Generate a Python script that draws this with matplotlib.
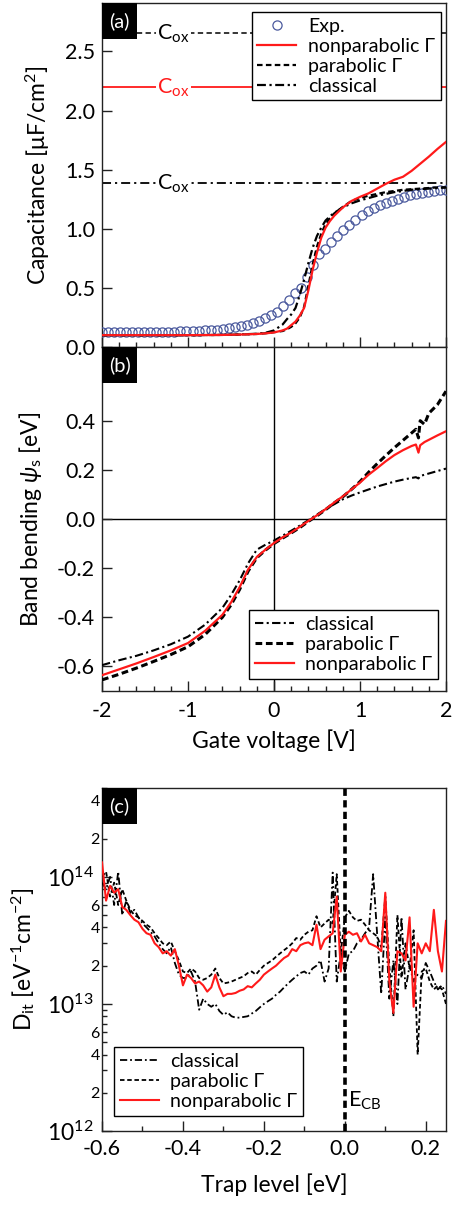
import numpy as np
import matplotlib
matplotlib.use('Agg')
import matplotlib.pyplot as plt
from matplotlib.patches import Rectangle
from matplotlib.ticker import FixedLocator, MultipleLocator, NullFormatter, FuncFormatter
from matplotlib.font_manager import FontProperties

plt.rcParams['font.family'] = ['Lato', 'DejaVu Sans']
plt.rcParams['mathtext.fontset'] = 'custom'
plt.rcParams['mathtext.rm'] = 'Lato'
plt.rcParams['mathtext.it'] = 'Lato:italic'
plt.rcParams['mathtext.bf'] = 'Lato:bold'
plt.rcParams['axes.unicode_minus'] = False

# ---------------- data: panel (a) capacitance ----------------
exp_v = np.linspace(-2.0, 2.0, 58)
exp_c = [0.124, 0.123, 0.123, 0.123, 0.124, 0.124, 0.125, 0.125, 0.126, 0.127,
         0.128, 0.129, 0.130, 0.132, 0.134, 0.137, 0.139, 0.141, 0.144, 0.147,
         0.151, 0.157, 0.165, 0.176, 0.190, 0.205, 0.222, 0.243, 0.268, 0.300,
         0.345, 0.400, 0.455, 0.500, 0.595, 0.695, 0.785, 0.830, 0.885, 0.940,
         0.990, 1.035, 1.075, 1.120, 1.150, 1.180, 1.200, 1.218, 1.235, 1.250,
         1.265, 1.285, 1.295, 1.305, 1.312, 1.318, 1.325, 1.330]

sim_v = [-2.0, -1.5, -1.0, -0.6, -0.4, -0.2, -0.1, 0.0, 0.1, 0.15, 0.2, 0.25,
         0.3, 0.35, 0.4, 0.45, 0.5, 0.55, 0.6, 0.65, 0.7, 0.8, 0.9, 1.0, 1.1,
         1.2, 1.3, 1.4, 1.5, 1.6, 1.7, 1.8, 1.9, 2.0]
cap_nonpar = [0.100, 0.100, 0.100, 0.102, 0.105, 0.110, 0.115, 0.123, 0.140,
              0.155, 0.185, 0.215, 0.265, 0.330, 0.480, 0.655, 0.800, 0.925,
              1.010, 1.065, 1.110, 1.180, 1.235, 1.270, 1.300, 1.340, 1.380,
              1.415, 1.440, 1.490, 1.550, 1.610, 1.675, 1.735]
cap_par = [0.100, 0.100, 0.100, 0.102, 0.105, 0.110, 0.116, 0.125, 0.135,
           0.150, 0.170, 0.200, 0.250, 0.340, 0.520, 0.700, 0.850, 0.960,
           1.040, 1.090, 1.130, 1.185, 1.235, 1.260, 1.280, 1.295, 1.310,
           1.320, 1.330, 1.335, 1.340, 1.345, 1.350, 1.350]
cap_class = [0.100, 0.100, 0.100, 0.102, 0.106, 0.112, 0.120, 0.140, 0.190,
             0.235, 0.275, 0.330, 0.440, 0.570, 0.710, 0.840, 0.940, 1.010,
             1.070, 1.105, 1.135, 1.180, 1.215, 1.240, 1.260, 1.280, 1.295,
             1.310, 1.320, 1.330, 1.335, 1.340, 1.345, 1.350]
cox_nonpar = 2.20
cox_par = 2.654
cox_class = 1.384

# ---------------- data: panel (b) band bending ----------------
bb_v = [-2.0, -1.8, -1.6, -1.4, -1.2, -1.0, -0.8, -0.6, -0.5, -0.4, -0.3, -0.2,
        -0.1, 0.0, 0.1, 0.2, 0.3, 0.4, 0.5, 0.6, 0.7, 0.8, 0.9, 1.0, 1.1, 1.2,
        1.3, 1.4, 1.5, 1.6, 1.65, 1.68, 1.7, 1.75, 1.8, 1.9, 2.0]
bb_nonpar = [-0.636, -0.612, -0.588, -0.562, -0.535, -0.505, -0.455, -0.390,
             -0.340, -0.278, -0.205, -0.155, -0.125, -0.098, -0.075, -0.055,
             -0.032, -0.008, 0.015, 0.040, 0.067, 0.092, 0.120, 0.148, 0.180,
             0.207, 0.235, 0.260, 0.280, 0.297, 0.303, 0.270, 0.300, 0.313,
             0.322, 0.340, 0.357]
bb_par = [-0.655, -0.632, -0.607, -0.580, -0.552, -0.520, -0.470, -0.400,
          -0.350, -0.287, -0.212, -0.158, -0.127, -0.100, -0.078, -0.057,
          -0.035, -0.010, 0.013, 0.038, 0.065, 0.090, 0.120, 0.152, 0.190,
          0.225, 0.258, 0.290, 0.320, 0.350, 0.365, 0.330, 0.400, 0.385,
          0.430, 0.465, 0.520]
bb_class = [-0.595, -0.575, -0.557, -0.535, -0.510, -0.479, -0.430, -0.362,
            -0.310, -0.250, -0.180, -0.125, -0.105, -0.088, -0.068, -0.048,
            -0.027, -0.005, 0.018, 0.040, 0.060, 0.080, 0.095, 0.108, 0.120,
            0.132, 0.142, 0.152, 0.160, 0.167, 0.170, 0.165, 0.175, 0.180,
            0.185, 0.195, 0.205]

# ---------------- data: panel (c) interface trap density (x 1e13) ----------------
dit_nonpar = [13.0, 6.5, 8.5, 7.5, 8.0, 5.8, 5.5, 5.0, 4.6, 4.4,
              3.9, 3.6, 3.5, 3.0, 2.8, 2.5, 2.6, 2.4, 2.7, 2.0,
              1.4, 1.7, 1.6, 1.45, 1.5, 1.4, 1.25, 1.35, 1.7, 1.35,
              1.15, 1.2, 1.2, 1.22, 1.27, 1.3, 1.38, 1.35, 1.45, 1.55,
              1.7, 1.8, 1.9, 2.0, 2.15, 2.3, 2.4, 2.7, 2.6, 2.9,
              3.0, 3.05, 2.9, 4.2, 2.7, 3.2, 3.4, 3.6, 7.0, 1.8,
              3.5, 3.7, 3.5, 3.6, 3.1, 3.5, 3.0, 2.9, 2.8, 2.6,
              7.5, 1.5, 0.85, 2.6, 2.5, 2.2, 4.8, 0.95, 3.0, 2.5,
              3.0, 2.6, 5.5, 2.6, 1.8, 4.5]
dit_par = [10.0, 11.0, 7.0, 9.0, 6.0, 8.0, 6.5, 5.5, 5.0, 4.8,
           4.5, 4.2, 4.0, 3.6, 3.3, 3.0, 2.9, 3.1, 2.6, 2.2,
           1.8, 1.75, 1.9, 1.8, 1.6, 1.55, 1.6, 1.7, 1.9, 1.6,
           1.45, 1.47, 1.5, 1.55, 1.6, 1.65, 1.75, 1.8, 1.7, 1.85,
           2.0, 2.1, 2.2, 2.35, 2.5, 2.65, 2.8, 3.0, 3.3, 3.2,
           3.5, 3.7, 3.8, 4.9, 4.0, 4.3, 4.6, 4.3, 10.5, 2.5,
           4.8, 5.4, 4.8, 4.5, 4.6, 4.2, 3.8, 3.6, 3.4, 2.8,
           7.0, 2.0, 0.8, 5.0, 1.6, 3.0, 1.9, 3.8, 0.4, 1.8,
           1.9, 1.5, 1.3, 1.4, 1.3, 1.0]
dit_class = [9.0, 8.0, 10.0, 6.0, 11.0, 5.0, 6.5, 5.2, 5.5, 4.8,
             4.3, 4.0, 3.7, 3.4, 3.0, 2.7, 2.5, 2.8, 2.1, 1.7,
             1.6, 1.6, 1.8, 1.5, 0.9, 1.1, 1.0, 0.95, 1.0, 0.88,
             0.82, 0.86, 0.80, 0.78, 0.78, 0.79, 0.80, 0.84, 0.88, 0.94,
             1.0, 1.05, 1.1, 1.18, 1.25, 1.35, 1.45, 1.55, 1.65, 1.75,
             1.8, 1.7, 1.9, 2.0, 2.2, 1.5, 1.9, 10.8, 1.5, 2.5,
             1.8, 2.5, 2.6, 3.0, 3.2, 3.6, 4.0, 10.5, 3.5, 1.2,
             4.8, 1.1, 2.2, 1.0, 4.8, 1.3, 2.0, 1.5, 1.7, 1.6,
             2.1, 1.8, 1.5, 1.3, 1.4, 1.2]
trap_e = np.round(-0.60 + 0.01 * np.arange(len(dit_nonpar)), 2)

# ---------------- styles ----------------
RED = '#ff1a1a'
EXPC = '#4b5a9e'
DASH = (2.5, 1.5)
DASHDOT = (4.0, 1.6, 1.0, 1.6)
legfont = FontProperties(family=['Lato', 'DejaVu Sans'], size=14)


def style_axes(ax):
    for s in ax.spines.values():
        s.set_linewidth(1.0)
        s.set_color('#222222')
    ax.tick_params(which='both', direction='in', top=False, right=False,
                   labelsize=15.5, width=1.0, color='#222222')
    ax.tick_params(which='major', length=7.5)
    ax.tick_params(which='minor', length=3.5)


def panel_tag(ax, s):
    ax.add_patch(Rectangle((0, 1 - 0.105), 0.102, 0.105, transform=ax.transAxes,
                           facecolor='black', edgecolor='none', zorder=10,
                           clip_on=False))
    ax.text(0.051, 1 - 0.0525, s, transform=ax.transAxes, color='white',
            ha='center', va='center', fontsize=14.5, zorder=11)


def style_legend(leg):
    fr = leg.get_frame()
    fr.set_edgecolor('black')
    fr.set_linewidth(1.0)
    fr.set_facecolor('white')
    fr.set_alpha(1)


fig = plt.figure(figsize=(4.55, 12.09), dpi=100)
axA = fig.add_axes([0.2242, 0.7130, 0.7560, 0.2845])
axB = fig.add_axes([0.2242, 0.4285, 0.7560, 0.2845])
axC = fig.add_axes([0.2242, 0.0645, 0.7560, 0.2837])

# ---------------- panel (a) ----------------
ax = axA
style_axes(ax)
ax.axhline(cox_par, color='black', lw=1.1, dashes=(3.5, 2.2), zorder=1)
ax.axhline(cox_nonpar, color=RED, lw=1.3, zorder=1)
ax.axhline(cox_class, color='black', lw=1.3, dashes=(5, 2.2, 1.2, 2.2), zorder=1)
for yv, col in [(cox_par, 'black'), (cox_nonpar, RED), (cox_class, 'black')]:
    ax.text(-1.17, yv - 0.055, r'C$_\mathregular{ox}$', color=col, fontsize=15.5,
            ha='center', va='baseline', zorder=2,
            bbox=dict(boxstyle='square,pad=0.05', fc='white', ec='none'))
ax.plot(exp_v, exp_c, ls='none', marker='o', ms=6.6, mfc='none', mec=EXPC,
        mew=0.9, label='Exp.', zorder=3)
ax.plot(sim_v, cap_nonpar, color=RED, lw=1.6, label='nonparabolic Γ', zorder=5)
ax.plot(sim_v, cap_par, color='black', lw=1.6, dashes=DASH, label='parabolic Γ', zorder=4)
ax.plot(sim_v, cap_class, color='black', lw=1.6, dashes=DASHDOT, label='classical', zorder=4)
ax.set_xlim(-2, 2)
ax.set_ylim(0, 2.91)
ax.xaxis.set_major_locator(MultipleLocator(1))
ax.xaxis.set_minor_locator(MultipleLocator(0.2))
ax.yaxis.set_major_locator(MultipleLocator(0.5))
ax.tick_params(axis='x', labelbottom=False)
ax.tick_params(axis='y', pad=5)
ax.set_ylabel(r'Capacitance [$\mathregular{\mu}$F/cm$^\mathregular{2}$]', fontsize=16.5)
ax.yaxis.set_label_coords(-0.145, 0.5)
leg = ax.legend(loc='upper right', bbox_to_anchor=(0.985, 0.974), borderaxespad=0,
                prop=legfont, fancybox=False, handlelength=2.0, handletextpad=0.6,
                labelspacing=0.15, borderpad=0.3)
style_legend(leg)
leg.set_zorder(8)
panel_tag(ax, '(a)')

# ---------------- panel (b) ----------------
ax = axB
style_axes(ax)
ax.axhline(0, color='black', lw=1.0, zorder=1)
ax.axvline(0, color='black', lw=1.0, zorder=1)
ax.plot(bb_v, bb_class, color='black', lw=1.5, dashes=DASHDOT, label='classical', zorder=4)
ax.plot(bb_v, bb_par, color='black', lw=2.2, dashes=(2.2, 1.2), label='parabolic Γ', zorder=4)
ax.plot(bb_v, bb_nonpar, color=RED, lw=1.6, label='nonparabolic Γ', zorder=5)
ax.set_xlim(-2, 2)
ax.set_ylim(-0.7, 0.7)
ax.xaxis.set_major_locator(MultipleLocator(1))
ax.xaxis.set_minor_locator(MultipleLocator(0.2))
ax.yaxis.set_major_locator(FixedLocator([-0.6, -0.4, -0.2, 0.0, 0.2, 0.4]))
ax.tick_params(axis='x', pad=7)
ax.tick_params(axis='y', pad=5)
ax.set_ylabel(r'Band bending $\psi_\mathregular{s}$ [eV]', fontsize=16.5)
ax.yaxis.set_label_coords(-0.17, 0.5)
ax.set_xlabel('Gate voltage [V]', fontsize=16.5, labelpad=6)
leg = ax.legend(loc='lower right', bbox_to_anchor=(0.977, 0.035), borderaxespad=0,
                prop=legfont, fancybox=False, handlelength=2.0, handletextpad=0.6,
                labelspacing=0.15, borderpad=0.3)
style_legend(leg)
panel_tag(ax, '(b)')

# ---------------- panel (c) ----------------
ax = axC
style_axes(ax)
ax.set_yscale('log')
ax.plot(trap_e, np.array(dit_class) * 1e13, color='black', lw=1.3, dashes=DASHDOT,
        label='classical', zorder=4)
ax.plot(trap_e, np.array(dit_par) * 1e13, color='black', lw=1.3, dashes=DASH,
        label='parabolic Γ', zorder=4)
ax.plot(trap_e, np.array(dit_nonpar) * 1e13, color=RED, lw=1.5,
        label='nonparabolic Γ', zorder=5)
ax.axvline(0, color='black', lw=2.6, dashes=(2.0, 1.2), zorder=6)
ax.text(0.009, 1.72e12, r'E$_\mathregular{CB}$', fontsize=15.5, ha='left', va='center')
ax.set_xlim(-0.6, 0.25)
ax.set_ylim(1e12, 5e14)
ax.xaxis.set_major_locator(MultipleLocator(0.2))
ax.xaxis.set_minor_locator(MultipleLocator(0.1))
ax.xaxis.set_major_formatter(FuncFormatter(lambda v, p: '%.1f' % (v + 0.0)))
ax.yaxis.set_major_locator(FixedLocator([1e12, 1e13, 1e14]))
ax.yaxis.set_major_formatter(FuncFormatter(
    lambda v, p: r'$\mathregular{10^{%d}}$' % int(round(np.log10(v)))))
minor_locs = [m * 10.0 ** d for d in (12, 13, 14) for m in range(2, 10)]
ax.yaxis.set_minor_locator(FixedLocator(minor_locs))


def minor_fmt(v, p):
    m = int(round(v / 10 ** np.floor(np.log10(v) + 1e-9)))
    return str(m) if m in (2, 4, 6) else ''


ax.yaxis.set_minor_formatter(FuncFormatter(minor_fmt))
ax.tick_params(axis='y', which='major', pad=6, labelsize=16.5)
ax.tick_params(axis='y', which='minor', pad=1.5, labelsize=11.5)
ax.tick_params(axis='x', pad=6)
ax.set_ylabel(r'D$_\mathregular{it}$ [eV$^\mathregular{-1}$cm$^\mathregular{-2}$]', fontsize=16.5)
ax.yaxis.set_label_coords(-0.19, 0.5)
ax.set_xlabel('Trap level [eV]', fontsize=16.5, labelpad=10)
leg = ax.legend(loc='lower left', bbox_to_anchor=(0.035, 0.044), borderaxespad=0,
                prop=legfont, fancybox=False, handlelength=2.0, handletextpad=0.6,
                labelspacing=0.15, borderpad=0.3)
style_legend(leg)
leg.set_zorder(8)
panel_tag(ax, '(c)')

fig.savefig('out.png', dpi=100)
